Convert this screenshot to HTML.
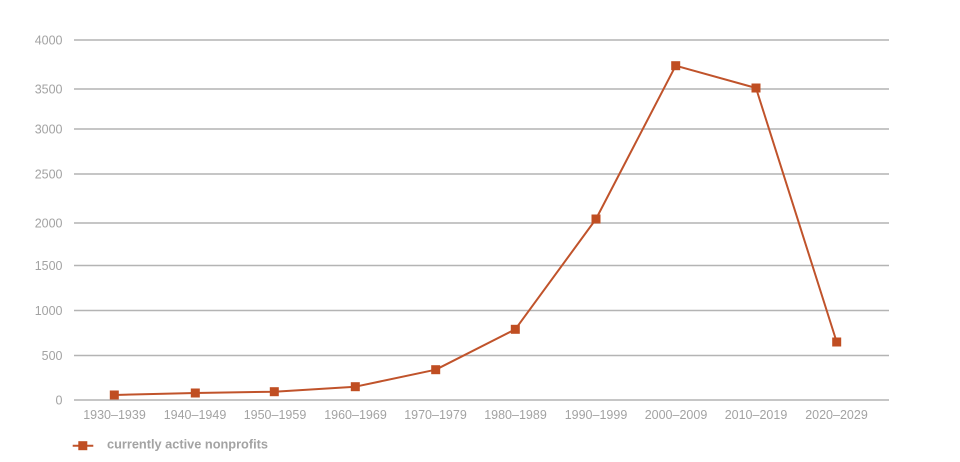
<!DOCTYPE html>
<html>
<head>
<meta charset="utf-8">
<style>
  html,body{margin:0;padding:0;background:#fff;}
  svg{display:block;}
  text{font-family:"Liberation Sans",sans-serif;fill:#a3a3a3;}
</style>
</head>
<body>
<svg width="960" height="462" viewBox="0 0 960 462" xmlns="http://www.w3.org/2000/svg">
  <g stroke="#b4b4b4" stroke-width="1.6">
    <line x1="74" y1="40" x2="889" y2="40"/>
    <line x1="74" y1="89" x2="889" y2="89"/>
    <line x1="74" y1="129" x2="889" y2="129"/>
    <line x1="74" y1="174" x2="889" y2="174"/>
    <line x1="74" y1="223" x2="889" y2="223"/>
    <line x1="74" y1="265.5" x2="889" y2="265.5"/>
    <line x1="74" y1="310.5" x2="889" y2="310.5"/>
    <line x1="74" y1="355.5" x2="889" y2="355.5"/>
    <line x1="74" y1="400" x2="889" y2="400"/>
  </g>
  <g font-size="12.5" text-anchor="end">
    <text x="62.5" y="44.5">4000</text>
    <text x="62.5" y="93.5">3500</text>
    <text x="62.5" y="133.5">3000</text>
    <text x="62.5" y="178.5">2500</text>
    <text x="62.5" y="227.5">2000</text>
    <text x="62.5" y="270">1500</text>
    <text x="62.5" y="315">1000</text>
    <text x="62.5" y="360">500</text>
    <text x="62.5" y="404.5">0</text>
  </g>
  <g font-size="12.5" text-anchor="middle">
    <text x="114.5" y="419">1930–1939</text>
    <text x="195" y="419">1940–1949</text>
    <text x="275" y="419">1950–1959</text>
    <text x="355.5" y="419">1960–1969</text>
    <text x="435.5" y="419">1970–1979</text>
    <text x="515.5" y="419">1980–1989</text>
    <text x="596" y="419">1990–1999</text>
    <text x="676" y="419">2000–2009</text>
    <text x="756" y="419">2010–2019</text>
    <text x="836.5" y="419">2020–2029</text>
  </g>
  <polyline fill="none" stroke="#c0532b" stroke-width="2" stroke-linejoin="round"
    points="114.3,395 195.3,393 274.3,391.7 355.3,386.7 435.7,369.7 515.3,329.3 596,219 675.7,65.7 756,88 836.7,342"/>
  <g fill="#c04e22">
    <rect x="109.8" y="390.5" width="9" height="9"/>
    <rect x="190.8" y="388.5" width="9" height="9"/>
    <rect x="269.8" y="387.2" width="9" height="9"/>
    <rect x="350.8" y="382.2" width="9" height="9"/>
    <rect x="431.2" y="365.2" width="9" height="9"/>
    <rect x="510.8" y="324.8" width="9" height="9"/>
    <rect x="591.5" y="214.5" width="9" height="9"/>
    <rect x="671.2" y="61.2" width="9" height="9"/>
    <rect x="751.5" y="83.5" width="9" height="9"/>
    <rect x="832.2" y="337.5" width="9" height="9"/>
  </g>
  <line x1="72.7" y1="445.7" x2="93.3" y2="445.7" stroke="#c0532b" stroke-width="2"/>
  <rect x="78.3" y="441.2" width="9" height="9" fill="#c04e22"/>
  <text x="107" y="448.5" font-size="12.5" font-weight="bold" textLength="161" lengthAdjust="spacingAndGlyphs" fill="#9a9a9a">currently active nonprofits</text>
</svg>
</body>
</html>
